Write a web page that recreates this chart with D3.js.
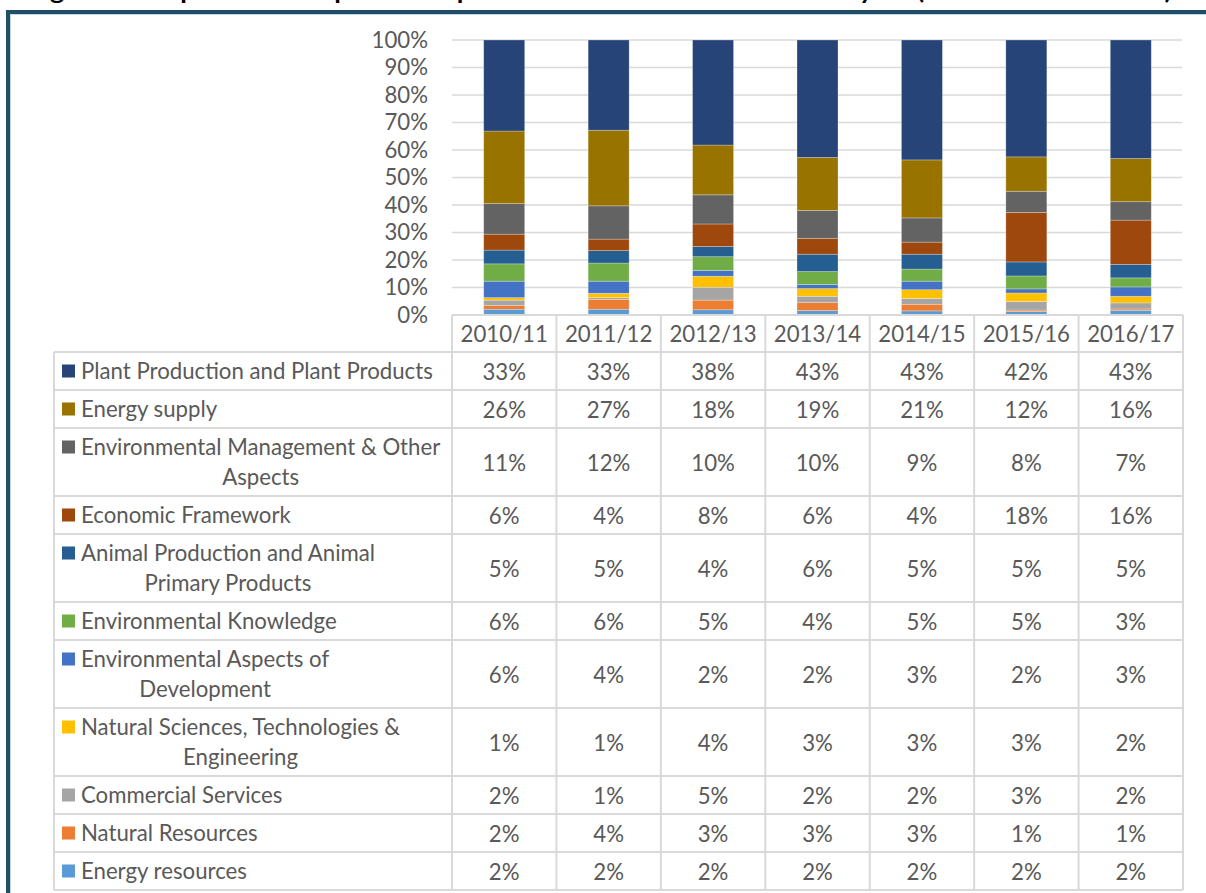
<!DOCTYPE html>
<html><head><meta charset="utf-8">
<script src="https://cdn.jsdelivr.net/npm/d3@7"></script>
<style>html,body{margin:0;padding:0;background:#fff;overflow:hidden}svg{display:block}</style>
</head><body>
<svg id="chart" width="1206" height="893"></svg>
<script>
const titleText = "Figure 8: Proportion of expenditure per main theme for each financial year (2010/11 – 2016/17)";
const years = ["2010/11","2011/12","2012/13","2013/14","2014/15","2015/16","2016/17"];
const seriesNames = [
  "Plant Production and Plant Products",
  "Energy supply",
  "Environmental Management & Other\nAspects",
  "Economic Framework",
  "Animal Production and Animal\nPrimary Products",
  "Environmental Knowledge",
  "Environmental Aspects of\nDevelopment",
  "Natural Sciences, Technologies &\nEngineering",
  "Commercial Services",
  "Natural Resources",
  "Energy resources"
];
const seriesColors = ["#264478","#997300","#636363","#9e480e","#255e91","#70ad47","#4472c4","#ffc000","#a5a5a5","#ed7d31","#5b9bd5"];
// bar values (%), per series, per year
const plantValues      = [33.1, 32.8, 38.2, 42.7, 43.6, 42.5, 43.1];
const energySupply     = [26.4, 27.5, 18.1, 19.3, 21.1, 12.5, 15.7];
const envManagement    = [11.1, 12.1, 10.6, 10.1,  8.8,  7.7,  6.7];
const economicFrame    = [ 5.8,  4.2,  8.2,  5.8,  4.4, 18.0, 16.1];
const animalProduction = [ 5.0,  4.5,  3.7,  6.3,  5.4,  5.1,  4.9];
const envKnowledge     = [ 6.3,  6.6,  5.0,  4.7,  4.4,  4.7,  3.3];
const envAspects       = [ 6.0,  4.4,  2.1,  1.5,  3.1,  1.5,  3.4];
const naturalSciences  = [ 0.9,  1.6,  4.0,  2.8,  3.2,  3.1,  2.4];
const commercialServ   = [ 1.9,  0.6,  4.7,  2.3,  2.1,  3.1,  2.2];
const naturalResources = [ 1.4,  3.6,  3.5,  2.9,  2.4,  0.5,  0.5];
const energyResources  = [ 2.1,  2.1,  1.9,  1.6,  1.5,  1.3,  1.7];
const seriesValues = [plantValues, energySupply, envManagement, economicFrame, animalProduction,
  envKnowledge, envAspects, naturalSciences, commercialServ, naturalResources, energyResources];
// table labels as printed
const tableLabels = [
  ["33%","33%","38%","43%","43%","42%","43%"],
  ["26%","27%","18%","19%","21%","12%","16%"],
  ["11%","12%","10%","10%","9%","8%","7%"],
  ["6%","4%","8%","6%","4%","18%","16%"],
  ["5%","5%","4%","6%","5%","5%","5%"],
  ["6%","6%","5%","4%","5%","5%","3%"],
  ["6%","4%","2%","2%","3%","2%","3%"],
  ["1%","1%","4%","3%","3%","3%","2%"],
  ["2%","1%","5%","2%","2%","3%","2%"],
  ["2%","4%","3%","3%","3%","1%","1%"],
  ["2%","2%","2%","2%","2%","2%","2%"]
];
const yTicks = [0,0.1,0.2,0.3,0.4,0.5,0.6,0.7,0.8,0.9,1.0];

const svg = d3.select("#chart");
const FONT = "Lato, 'Open Sans', sans-serif";
const TXT = "#595959";
const GRID = "#d9d9d9";

// calibrate font size so the longest legend label matches the reference width
const probe = svg.append("text").attr("font-family", FONT).attr("font-size", 20).text("Plant Production and Plant Products");
const pw = probe.node().getComputedTextLength();
probe.remove();
const FS = 20 * 352 / pw;

// title (mostly cut off at the top, as in the reference)
svg.append("text").attr("x", 28).attr("y", -1).attr("text-anchor", "start")
  .attr("textLength", 1144).attr("lengthAdjust", "spacingAndGlyphs")
  .attr("font-family", FONT).attr("font-weight", "bold").attr("font-size", 23).attr("fill", "#000").text(titleText);

// frame
svg.append("rect").attr("x", 8).attr("y", 12).attr("width", 1240).attr("height", 920)
  .attr("fill", "none").attr("stroke", "#1f4e65").attr("stroke-width", 4);
svg.append("path").attr("d", "M10.5,940V14.5H1240").attr("fill", "none").attr("stroke", "#bdd7ee").attr("stroke-width", 1);

// layout
const tableLeft = 54, plotLeft = 452, plotRight = 1183;
const x = d3.scaleBand().domain(years).range([plotLeft, plotRight]).paddingInner(0).paddingOuter(0);
const y = d3.scaleLinear().domain([0, 1]).range([315, 40]);

// gridlines
svg.append("g").selectAll("line").data(yTicks.slice(1)).join("line")
  .attr("x1", plotLeft).attr("x2", plotRight - 1)
  .attr("y1", d => y(d)).attr("y2", d => y(d))
  .attr("stroke", GRID).attr("stroke-width", 1.5);

// y axis labels
svg.append("g").selectAll("text").data(yTicks).join("text")
  .attr("x", 428).attr("y", d => y(d)).attr("dy", "0.35em").attr("text-anchor", "end")
  .attr("font-family", FONT).attr("font-size", FS).attr("fill", TXT)
  .text(d3.format(".0%"));

// stacked bars (100% stacked)
const rows = years.map((yr, j) => {
  const o = { year: yr };
  seriesValues.forEach((arr, i) => o["s" + i] = arr[j]);
  return o;
});
const keys = seriesValues.map((_, i) => "s" + i).reverse();
const stack = d3.stack().keys(keys).offset(d3.stackOffsetExpand);
const layers = stack(rows);
const barW = 41;
svg.append("g").selectAll("g").data(layers).join("g")
  .attr("fill", d => seriesColors[+d.key.slice(1)])
  .selectAll("rect").data(d => d).join("rect")
  .attr("x", d => x(d.data.year) + x.bandwidth() / 2 - barW / 2)
  .attr("width", barW)
  .attr("y", d => y(d[1]))
  .attr("height", d => y(d[0]) - y(d[1]))
  .attr("stroke", "rgba(255,255,255,0.35)").attr("stroke-width", 0.75);

// data table
const headerTop = 315, headerBottom = 352;
const lineCount = seriesNames.map(n => n.split("\n").length);
const rowH = lineCount.map(c => c === 1 ? 38 : 68);
const rowTop = [];
let acc = headerBottom;
rowH.forEach(h => { rowTop.push(acc); acc += h; });
const tableBottom = acc;

const tg = svg.append("g");
tg.append("line").attr("x1", plotLeft).attr("x2", plotRight).attr("y1", headerTop).attr("y2", headerTop).attr("stroke", GRID).attr("stroke-width", 2);
[headerBottom].concat(rowTop.slice(1), [tableBottom]).forEach(yy => {
  tg.append("line").attr("x1", tableLeft).attr("x2", plotRight).attr("y1", yy).attr("y2", yy).attr("stroke", GRID).attr("stroke-width", 2);
});
tg.append("line").attr("x1", tableLeft).attr("x2", tableLeft).attr("y1", headerBottom).attr("y2", tableBottom).attr("stroke", GRID).attr("stroke-width", 2);
years.concat(["end"]).forEach((yr) => {
  const xx = yr === "end" ? plotRight : x(yr);
  tg.append("line").attr("x1", xx).attr("x2", xx).attr("y1", headerTop).attr("y2", tableBottom).attr("stroke", GRID).attr("stroke-width", 2);
});

// header labels
tg.selectAll("text.hdr").data(years).join("text").attr("class", "hdr")
  .attr("x", d => x(d) + x.bandwidth() / 2).attr("y", (headerTop + headerBottom) / 2 + 1)
  .attr("dy", "0.35em").attr("text-anchor", "middle")
  .attr("font-family", FONT).attr("font-size", FS).attr("fill", TXT).text(d => d);

// rows
seriesNames.forEach((name, i) => {
  const lines = name.split("\n");
  const top = rowTop[i], h = rowH[i];
  const firstY = lines.length === 1 ? top + h / 2 : top + h / 2 - 15;
  tg.append("rect").attr("x", 62).attr("y", firstY - 6.5).attr("width", 13).attr("height", 13).attr("fill", seriesColors[i]);
  const txts = lines.map((ln, k) => tg.append("text")
    .attr("y", firstY + k * 30).attr("dy", "0.35em")
    .attr("font-family", FONT).attr("font-size", FS).attr("fill", TXT).text(ln));
  const widths = txts.map(t => t.node().getComputedTextLength());
  const maxW = d3.max(widths);
  txts.forEach((t, k) => t.attr("x", 81 + (maxW - widths[k]) / 2));
  years.forEach((yr, j) => {
    tg.append("text").attr("x", x(yr) + x.bandwidth() / 2).attr("y", top + h / 2 + 1).attr("dy", "0.35em")
      .attr("text-anchor", "middle").attr("font-family", FONT).attr("font-size", FS).attr("fill", TXT)
      .text(tableLabels[i][j]);
  });
});
</script>
</body></html>
